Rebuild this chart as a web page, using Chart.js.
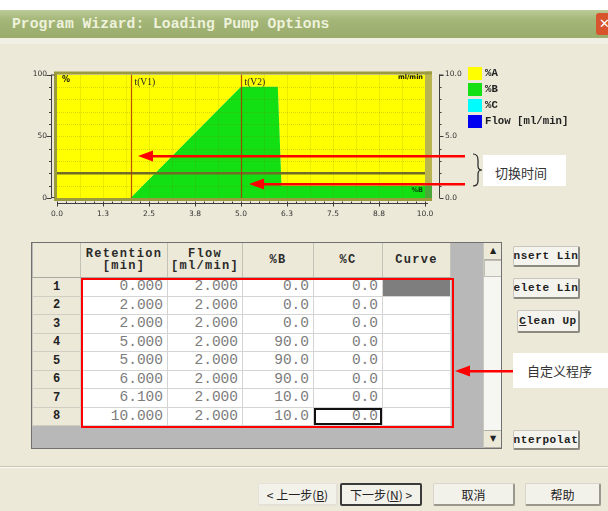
<!DOCTYPE html>
<html>
<head>
<meta charset="utf-8">
<script src="https://cdn.jsdelivr.net/npm/chart.js@4.4.1/dist/chart.umd.min.js"></script>
<style>
  body { margin:0; width:608px; height:511px; overflow:hidden; background:#ece9d8; position:relative; font-family:"Liberation Mono", monospace; }
  .abs { position:absolute; }
  #topgap { left:0; top:0; width:608px; height:10px; background:#fff; }
  #titlebar { left:0; top:10px; width:608px; height:28px; background:linear-gradient(#bccb98, #a4b678 35%, #9aad6c); }
  #titlebar span { position:absolute; left:12px; top:6px; font:bold 14.7px "Liberation Mono"; color:#eef2dc; white-space:nowrap; }
  #closebtn { left:596px; top:13px; width:16px; height:22px; background:#d8542c; border-radius:3px; color:#fff; font:bold 13px "DejaVu Sans"; line-height:22px; text-indent:3px; }
  #underbar { left:0; top:38px; width:608px; height:6px; background:#f2f0e4; }
  #gradChart { left:0; top:50px; }
  #legend { left:468px; top:67px; }
  .lg { position:relative; height:16px; white-space:nowrap; }
  .lg i { position:absolute; left:0; top:0; width:14px; height:13px; }
  .lg b { position:absolute; left:17px; top:0; font:bold 10.7px "Liberation Mono"; color:#222; line-height:13px; }
  #grid { left:31px; top:242px; width:469px; height:205px; border:1px solid #707070; background:#b8b8b8; overflow:hidden; }
  #grid table { position:absolute; left:0; top:0; border-collapse:collapse; table-layout:fixed; }
  #grid th { background:#ece9d8; font:bold 12px "Liberation Mono"; letter-spacing:1.3px; color:#2a2a2a; line-height:12px; height:34px; padding:0; border-right:1px solid #c4c2b6; border-bottom:1px solid #a8a8a0; text-align:center; }
  #grid td { height:17.5px; padding:0; border:1px solid #d4d4d4; }
  #grid td.rh { background:#ece9d8; font:bold 12px "Liberation Mono"; color:#222; text-align:center; border-color:#d0cec2; }
  #grid td.num { background:#fff; color:#7c7c7c; font:14.5px "Liberation Mono"; text-align:right; padding-right:4px; line-height:17px; }
  #grid td.cv { background:#fff; }
  #scroll { left:451px; top:0; width:18px; height:205px; background:#f6f6f2; border-left:1px solid #c8c8c0; }
  .sbtn { position:absolute; left:0; width:18px; height:16px; background:#ece9d8; border-bottom:1px solid #b0b0a8; font:8px "DejaVu Sans"; text-align:center; line-height:16px; color:#222; }
  .btn { position:absolute; display:flex; justify-content:center; align-items:center; overflow:hidden; white-space:nowrap; background:#f4f3ee; border:1px solid #c8c6bc; border-right:2px solid #8c8a80; border-bottom:2px solid #8c8a80; border-radius:2px; font:bold 11px "Liberation Mono"; letter-spacing:0.6px; color:#222; box-sizing:border-box; }
  .cbtn { position:absolute; display:flex; justify-content:center; align-items:center; white-space:nowrap; box-sizing:border-box; font:12px "Noto Sans CJK SC"; color:#222; background:#f2f1ea; border:1px solid #d8d6cc; border-right:2px solid #9a988e; border-bottom:2px solid #9a988e; border-radius:2px; }
  #sep { left:0; top:466px; width:608px; height:1px; background:#c9c6b6; border-bottom:1px solid #fbfaf4; }
  #notes { left:0; top:0; }
</style>
</head>
<body>
<div id="topgap" class="abs"></div>
<div id="titlebar" class="abs"><span>Program Wizard: Loading Pump Options</span></div>
<div id="closebtn" class="abs">✕</div>
<div id="underbar" class="abs"></div>

<canvas id="gradChart" class="abs" width="608" height="180" style="width:608px;height:180px"></canvas>
<div id="legend" class="abs"></div>

<div id="grid" class="abs">
  <table id="progTable"></table>
  <div id="scroll" class="abs">
    <div class="sbtn" style="top:0">▲</div>
    <div class="sbtn" style="top:17px;height:17px;background:#f0efe8;border:1px solid #c0beb4;box-sizing:border-box"></div>
    <div class="sbtn" style="top:187px;border-top:1px solid #b0b0a8">▼</div>
  </div>
</div>

<div class="btn" style="left:513px;top:246px;width:67px;height:21px">Insert Line</div>
<div class="btn" style="left:513px;top:278px;width:67px;height:21px">Delete Line</div>
<div class="btn" style="left:517px;top:310px;width:63px;height:23px"><u>C</u>lean Up</div>
<div class="btn" style="left:513px;top:430px;width:67px;height:20px">Interpolate</div>

<div id="sep" class="abs"></div>
<div class="cbtn" style="left:258px;top:483px;width:80px;height:23px;border-color:#e4e2d8">&lt; 上一步(<u>B</u>)</div>
<div class="cbtn" style="left:340px;top:483px;width:82px;height:23px;border:2px solid #3a3a3a">下一步(<u>N</u>) &gt;</div>
<div class="cbtn" style="left:433px;top:483px;width:82px;height:23px">取消</div>
<div class="cbtn" style="left:525px;top:483px;width:76px;height:23px">帮助</div>

<svg id="notes" class="abs" width="608" height="511">
  <g fill="#ff0000" stroke="none">
    <rect x="150" y="155" width="315" height="2.5"/>
    <polygon points="138,156 153,150.5 153,161.5"/>
    <rect x="261" y="183" width="204" height="2.5"/>
    <polygon points="249,184 264,178.5 264,189.5"/>
    <rect x="467" y="370" width="46" height="2.5"/>
    <polygon points="455,371 470,365.5 470,376.5"/>
  </g>
  <path d="M473,154 Q478,154 478,160 L478,166 Q478,170 482,170 Q478,170 478,174 L478,181 Q478,186 473,186" stroke="#222" stroke-width="1.2" fill="none"/>
  <rect x="483" y="155" width="83" height="31" fill="#fff"/>
  <text x="495" y="178" font-family="Noto Sans CJK SC" font-size="13" fill="#333">切换时间</text>
  <rect x="82" y="279" width="371" height="148" fill="none" stroke="#ff0000" stroke-width="2"/>
  <rect x="513" y="353" width="95" height="35" fill="#fff"/>
  <text x="527" y="376" font-family="Noto Sans CJK SC" font-size="13" fill="#333">自定义程序</text>
</svg>

<script>
// program table values (also the chart data)
const retention = [0.0, 2.0, 2.0, 5.0, 5.0, 6.0, 6.1, 10.0];
const flowRate  = [2.0, 2.0, 2.0, 2.0, 2.0, 2.0, 2.0, 2.0];
const percentB  = [0.0, 0.0, 0.0, 90.0, 90.0, 90.0, 10.0, 10.0];
const percentC  = [0.0, 0.0, 0.0, 0.0, 0.0, 0.0, 0.0, 0.0];
const percentA  = [100.0, 100.0, 100.0, 10.0, 10.0, 10.0, 90.0, 90.0];

// axis ticks
const xTicks = [0, 1.25, 2.5, 3.75, 5, 6.25, 7.5, 8.75, 10];
const xTickLabels = ["0.0", "1.3", "2.5", "3.8", "5.0", "6.3", "7.5", "8.8", "10.0"];
const pctTicks = [0, 50, 100];
const pctTickLabels = ["0", "50", "100"];
const flowTicks = [0, 5, 10];
const flowTickLabels = ["0.0", "5.0", "10.0"];

// valve switching times
const switchTimes = [2.0, 5.0];
const switchLabels = ["t(V1)", "t(V2)"];

const legendOrder = ["%A", "%B", "%C", "Flow [ml/min]"];

function pts(values) {
  return retention.map((t, i) => ({ x: t, y: values[i] }));
}

// extra drawing: grid, frame, axis lines, switch lines, small captions
const decor = {
  id: "decor",
  afterDatasetsDraw(chart) {
    const { ctx, chartArea: a, scales } = chart;
    const x = scales.x, y = scales.y, y1 = scales.y1;
    ctx.save();

    // dotted grid over the filled areas
    ctx.strokeStyle = "rgba(120,120,0,0.28)";
    ctx.lineWidth = 1;
    ctx.setLineDash([1, 1]);
    ctx.beginPath();
    for (let v = 0.625; v < 10; v += 0.625) {
      const px = Math.round(x.getPixelForValue(v)) + 0.5;
      ctx.moveTo(px, a.top); ctx.lineTo(px, a.bottom);
    }
    for (let v = 10; v < 100; v += 10) {
      const py = Math.round(y.getPixelForValue(v)) + 0.5;
      ctx.moveTo(a.left, py); ctx.lineTo(a.right, py);
    }
    ctx.stroke();
    ctx.setLineDash([]);

    // valve switching lines
    ctx.strokeStyle = "rgba(175,55,0,0.85)";
    ctx.lineWidth = 1.2;
    ctx.font = "9.5px 'Liberation Serif'";
    ctx.fillStyle = "#222";
    ctx.textBaseline = "middle";
    switchTimes.forEach((t, i) => {
      const px = Math.round(x.getPixelForValue(t)) + 0.5;
      ctx.beginPath(); ctx.moveTo(px, a.top); ctx.lineTo(px, a.bottom); ctx.stroke();
      ctx.fillText(switchLabels[i], px + 3, a.top + 8);
    });

    // right edge strip of the frame
    const last = percentB.length - 1;
    const splitY = y.getPixelForValue(percentB[last]);
    ctx.fillStyle = "#b8b452";
    ctx.fillRect(a.right, a.top - 3, 7, splitY - a.top + 3);
    ctx.fillStyle = "#4aa83a";
    ctx.fillRect(a.right, splitY, 7, a.bottom - splitY + 3);

    // olive frame
    ctx.strokeStyle = "#9c9a3e";
    ctx.lineWidth = 3;
    ctx.beginPath();
    ctx.moveTo(a.right + 7, a.top - 1.5); ctx.lineTo(a.left - 1.5, a.top - 1.5);
    ctx.lineTo(a.left - 1.5, a.bottom + 1.5); ctx.lineTo(a.right + 7, a.bottom + 1.5);
    ctx.stroke();

    // captions
    ctx.fillStyle = "#111";
    ctx.font = "bold 8px 'DejaVu Sans'";
    ctx.fillText("%", a.left + 5, a.top + 5);
    ctx.font = "bold 6.5px 'DejaVu Sans'";
    ctx.textAlign = "right";
    ctx.fillText("ml/min", a.right - 2, a.top + 3);
    ctx.fillStyle = "#0a400a";
    ctx.fillText("%B", a.right - 2, a.bottom - 8);
    ctx.textAlign = "left";

    // axis lines and tick marks
    ctx.strokeStyle = "#3c3c3c";
    ctx.lineWidth = 1;
    ctx.beginPath();
    const lx = a.left - 5.5;
    ctx.moveTo(lx, a.top); ctx.lineTo(lx, a.bottom);
    for (let v = 0; v <= 100; v += 10) {
      const py = Math.round(y.getPixelForValue(v)) + 0.5;
      const len = v % 50 === 0 ? 5 : 2.5;
      ctx.moveTo(lx - len, py); ctx.lineTo(lx, py);
    }
    ctx.moveTo(lx, a.top + 0.5); ctx.lineTo(lx + 3, a.top + 0.5);
    ctx.moveTo(lx, a.bottom - 0.5); ctx.lineTo(lx + 3, a.bottom - 0.5);

    const rx = a.right + 14.5;
    ctx.moveTo(rx, a.top); ctx.lineTo(rx, a.bottom);
    for (let v = 0; v <= 10; v += 1) {
      const py = Math.round(y1.getPixelForValue(v)) + 0.5;
      const len = v % 5 === 0 ? 4 : 2;
      ctx.moveTo(rx, py); ctx.lineTo(rx + len, py);
    }
    ctx.moveTo(rx - 0.5, a.top + 0.5); ctx.lineTo(rx + 4, a.top + 0.5);

    const by = a.bottom + 5.5;
    ctx.moveTo(x.getPixelForValue(0), by); ctx.lineTo(x.getPixelForValue(10) + 3, by);
    for (let v = 0; v <= 10.001; v += 0.25) {
      const px = Math.round(x.getPixelForValue(v)) + 0.5;
      const major = Math.abs(v / 1.25 - Math.round(v / 1.25)) < 0.001;
      ctx.moveTo(px, by - 2); ctx.lineTo(px, by + (major ? 3 : 0));
    }
    ctx.stroke();
    ctx.restore();
  }
};

const tickFont = { family: "DejaVu Sans", size: 7.5 };
const noGrid = { display: false, drawTicks: false };

const chart = new Chart(document.getElementById("gradChart"), {
  type: "line",
  data: {
    datasets: [
      {
        label: "Flow [ml/min]", data: pts(flowRate), yAxisID: "y1", order: 0,
        borderColor: "#716b2a", borderWidth: 2.5, fill: false, pointRadius: 0,
        legendFill: "#0000f0"
      },
      {
        label: "%B", data: pts(percentB), yAxisID: "y", stack: "mix", order: 1,
        backgroundColor: "#12e012", borderWidth: 0, fill: "origin", pointRadius: 0,
        legendFill: "#14e014"
      },
      {
        label: "%C", data: pts(percentC), yAxisID: "y", stack: "mix", order: 2,
        backgroundColor: "#00ffff", borderWidth: 0, fill: "-1", pointRadius: 0,
        legendFill: "#00fcfc"
      },
      {
        label: "%A", data: pts(percentA), yAxisID: "y", stack: "mix", order: 3,
        backgroundColor: "#ffff00", borderWidth: 0, fill: "-1", pointRadius: 0,
        legendFill: "#ffff00"
      }
    ]
  },
  options: {
    responsive: false,
    animation: false,
    layout: { padding: { top: 20 } },
    plugins: {
      legend: { display: false },
      tooltip: { enabled: false }
    },
    scales: {
      x: {
        type: "linear", min: 0, max: 10,
        grid: noGrid, border: { display: false },
        afterBuildTicks: (axis) => { axis.ticks = xTicks.map(v => ({ value: v })); },
        afterFit: (axis) => { axis.height = 32; },
        ticks: {
          padding: 12, font: tickFont, color: "#333", maxRotation: 0, autoSkip: false,
          callback: (v, i) => xTickLabels[i]
        }
      },
      y: {
        position: "left", min: 0, max: 100, stacked: true,
        grid: noGrid, border: { display: false },
        afterBuildTicks: (axis) => { axis.ticks = pctTicks.map(v => ({ value: v })); },
        afterFit: (axis) => { axis.width = 57; },
        ticks: { padding: 10, font: tickFont, color: "#333", callback: (v, i) => pctTickLabels[i] }
      },
      y1: {
        position: "right", min: 0, max: 10,
        grid: noGrid, border: { display: false },
        afterBuildTicks: (axis) => { axis.ticks = flowTicks.map(v => ({ value: v })); },
        afterFit: (axis) => { axis.width = 183; },
        ticks: { padding: 20, font: tickFont, color: "#333", callback: (v, i) => flowTickLabels[i] }
      }
    }
  },
  plugins: [decor]
});

// legend built from the chart's datasets
const legendBox = document.getElementById("legend");
legendOrder.forEach(name => {
  const ds = chart.data.datasets.find(d => d.label === name);
  const row = document.createElement("div");
  row.className = "lg";
  row.innerHTML = '<i style="background:' + ds.legendFill + '"></i><b>' + ds.label + '</b>';
  legendBox.appendChild(row);
});

// program table from the same arrays
const table = document.getElementById("progTable");
const colWidths = [48, 87, 75, 71, 69, 68];
let html = "<colgroup>" + colWidths.map(w => '<col style="width:' + w + 'px">').join("") + "</colgroup>";
html += "<tr><th></th><th>Retention<br>[min]</th><th>Flow<br>[ml/min]</th><th>%B</th><th>%C</th><th>Curve</th></tr>";
retention.forEach((t, i) => {
  const cvStyle = i === 0 ? ' style="background:#7e7e7e"' : "";
  const cStyle = i === retention.length - 1 ? ' style="box-shadow:inset 0 0 0 2px #111"' : "";
  html += "<tr><td class='rh'>" + (i + 1) + "</td>" +
    "<td class='num'>" + t.toFixed(3) + "</td>" +
    "<td class='num'>" + flowRate[i].toFixed(3) + "</td>" +
    "<td class='num'>" + percentB[i].toFixed(1) + "</td>" +
    "<td class='num'" + cStyle + ">" + percentC[i].toFixed(1) + "</td>" +
    "<td class='cv'" + cvStyle + "></td></tr>";
});
table.innerHTML = html;
</script>
</body>
</html>
